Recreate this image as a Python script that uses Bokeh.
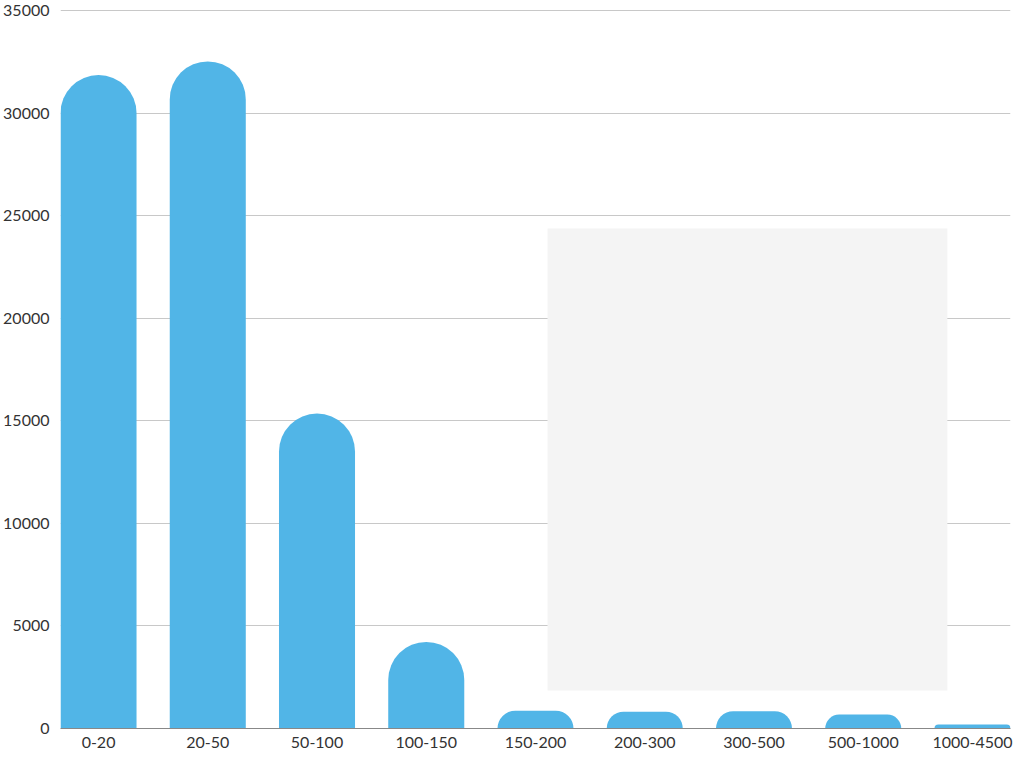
from bokeh.plotting import figure
from bokeh.models import ColumnDataSource, FixedTicker, Range1d, BoxAnnotation
from bokeh.embed import file_html
from bokeh.resources import INLINE

categories = ["0-20", "20-50", "50-100", "100-150", "150-200", "200-300", "300-500", "500-1000", "1000-4500"]
counts = [31850, 32520, 15350, 4220, 870, 820, 840, 680, 190]
y_ticks = [0, 5000, 10000, 15000, 20000, 25000, 30000, 35000]

xs = list(range(len(categories)))
src = ColumnDataSource(data=dict(x=xs, top=counts, cat=categories))

p = figure(width=1016, height=760, output_backend="svg", toolbar_location=None,
           x_range=Range1d(-0.348, 8.348), y_range=Range1d(0, 35049),
           min_border_left=60, min_border_right=6, min_border_top=9, min_border_bottom=32)
p.outline_line_color = None
p.background_fill_color = "white"
p.border_fill_color = "white"

p.add_layout(BoxAnnotation(left=4.11, right=7.77, bottom=1850, top=24370,
                           fill_color="#f4f4f4", fill_alpha=1.0, line_color=None, level="underlay"))

p.vbar(x="x", top="top", bottom=0, width=0.696, source=src, fill_color="#51b5e7",
       line_color=None, border_radius=(38, 38, 0, 0))

p.xgrid.grid_line_color = None
p.ygrid.grid_line_color = "#c8c8c8"
p.ygrid.grid_line_width = 1

p.xaxis.ticker = FixedTicker(ticks=xs)
p.xaxis.major_label_overrides = {i: c for i, c in zip(xs, categories)}
p.yaxis.ticker = FixedTicker(ticks=y_ticks)

for ax in (p.xaxis, p.yaxis):
    ax.major_tick_line_color = None
    ax.minor_tick_line_color = None
    ax.major_tick_out = 0
    ax.major_tick_in = 0
    ax.major_label_text_font = "Lato"
    ax.major_label_text_font_size = "16px"
    ax.major_label_text_color = "#333333"
p.yaxis.axis_line_color = None
p.yaxis.major_label_standoff = 11
p.xaxis.axis_line_color = "#888888"
p.xaxis.axis_line_width = 1
p.xaxis.major_label_standoff = 8

open("out.html", "w").write(file_html(p, INLINE))
